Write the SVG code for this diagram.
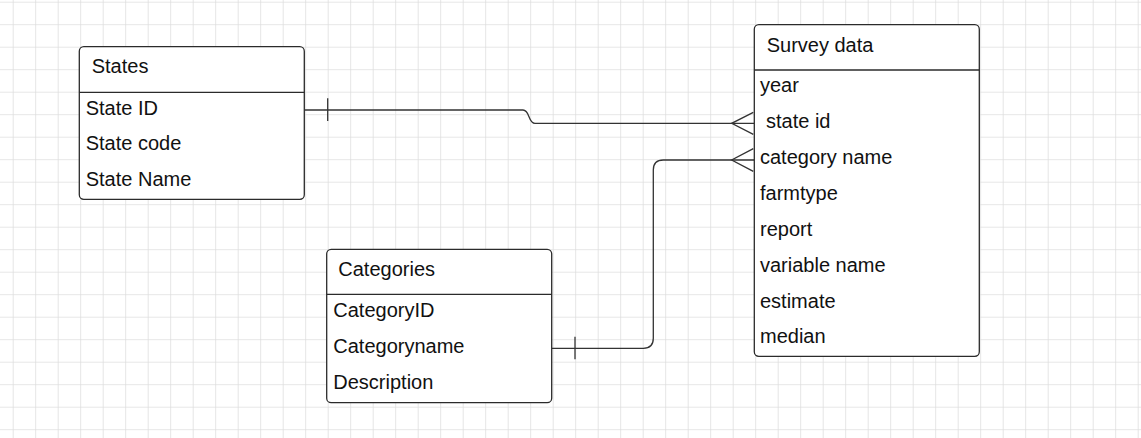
<svg xmlns="http://www.w3.org/2000/svg" width="1141" height="438" viewBox="0 0 1141 438">
  <defs>
    <pattern id="grid" x="12.7" y="1.7" width="22.5" height="22.5" patternUnits="userSpaceOnUse">
      <path d="M0 0 V22.5 M0 0 H22.5" fill="none" stroke="#dedede" stroke-width="1.5"/>
    </pattern>
    <style>
      .box { fill: #ffffff; stroke: #2b2b2b; stroke-width: 1.3; }
      .div { stroke: #2b2b2b; stroke-width: 1.3; }
      .t { font-family: "Liberation Sans", Arial, sans-serif; font-size: 20px; fill: #111111; }
      .c { fill: none; stroke: #333333; stroke-width: 1.3; }
    </style>
  </defs>
  <rect x="0" y="0" width="1141" height="438" fill="#ffffff"/>
  <rect x="0" y="0" width="1141" height="438" fill="url(#grid)"/>

  <g id="connectors">
    <!-- States -> Survey data -->
    <path class="c" d="M304.3 110 H523 C530 110 528 123.3 535 123.3 H754.3"/>
    <path class="c" d="M327.7 98.3 V121"/>
    <path class="c" d="M753.3 112.3 L731.7 123.3 L753.3 134.3"/>
    <!-- Categories -> Survey data -->
    <path class="c" d="M551.7 348.3 H643.3 Q653.3 348.3 653.3 338.3 V170 Q653.3 160 663.3 160 H754.3"/>
    <path class="c" d="M575 336.7 V359.3"/>
    <path class="c" d="M753.3 148.7 L731.7 160 L753.3 171.3"/>
  </g>

  <g id="states">
    <rect class="box" x="79.3" y="46.7" width="225" height="152.6" rx="4.5"/>
    <line class="div" x1="79.3" y1="92.3" x2="304.3" y2="92.3"/>
    <text class="t" x="91.7" y="73.3">States</text>
    <text class="t" x="85.7" y="115">State ID</text>
    <text class="t" x="85.7" y="150.3">State code</text>
    <text class="t" x="85.7" y="185.7">State Name</text>
  </g>

  <g id="categories">
    <rect class="box" x="326.7" y="249.3" width="225" height="153.4" rx="4.5"/>
    <line class="div" x1="326.7" y1="294.3" x2="551.7" y2="294.3"/>
    <text class="t" x="338.3" y="275.7">Categories</text>
    <text class="t" x="333.3" y="317.3">CategoryID</text>
    <text class="t" x="333.3" y="353.3">Categoryname</text>
    <text class="t" x="333.3" y="389">Description</text>
  </g>

  <g id="survey-data">
    <rect class="box" x="754.3" y="24.7" width="225" height="331.6" rx="4.5"/>
    <line class="div" x1="754.3" y1="70" x2="979.3" y2="70"/>
    <text class="t" x="766.7" y="51.7">Survey data</text>
    <text class="t" x="760" y="92.3">year</text>
    <text class="t" x="766" y="128.3">state id</text>
    <text class="t" x="760" y="164">category name</text>
    <text class="t" x="760" y="200">farmtype</text>
    <text class="t" x="760" y="236">report</text>
    <text class="t" x="760" y="271.7">variable name</text>
    <text class="t" x="760" y="307.7">estimate</text>
    <text class="t" x="760" y="343.3">median</text>
  </g>
</svg>
